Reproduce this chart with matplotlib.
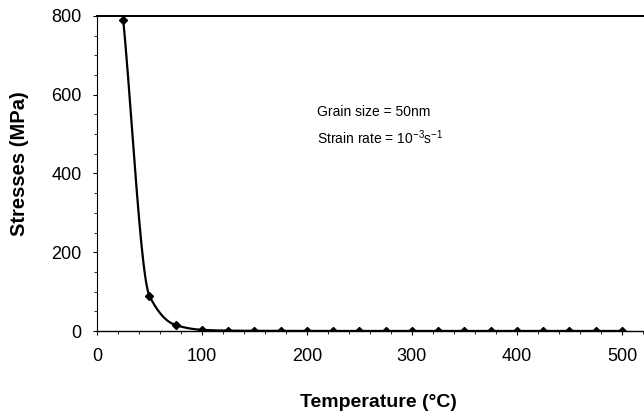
import numpy as np
import matplotlib.pyplot as plt
from matplotlib.ticker import MultipleLocator

plt.rcParams['font.family'] = ['Liberation Sans', 'DejaVu Sans']

# flow stress vs temperature
temperature = [25, 50, 75, 100, 125, 150, 175, 200, 225, 250, 275, 300,
               325, 350, 375, 400, 425, 450, 475, 500]
stress = [790, 89, 15, 3, 1, 0.5, 0.3, 0.2, 0.1, 0.1, 0.1, 0.1,
          0.1, 0.1, 0.1, 0.1, 0.1, 0.1, 0.1, 0.1]


def smooth_curve(x, y, n=40):
    # monotone cubic (Fritsch-Carlson) through the points, no overshoot
    x = np.asarray(x, float)
    y = np.asarray(y, float)
    h = np.diff(x)
    d = np.diff(y) / h
    m = np.zeros_like(y)
    m[0], m[-1] = d[0], d[-1]
    for i in range(1, len(x) - 1):
        if d[i - 1] * d[i] > 0:
            w1 = 2 * h[i] + h[i - 1]
            w2 = h[i] + 2 * h[i - 1]
            m[i] = (w1 + w2) / (w1 / d[i - 1] + w2 / d[i])
    px, py = [], []
    for i in range(len(x) - 1):
        t = np.linspace(0, 1, n)
        h00 = 2 * t ** 3 - 3 * t ** 2 + 1
        h10 = t ** 3 - 2 * t ** 2 + t
        h01 = -2 * t ** 3 + 3 * t ** 2
        h11 = t ** 3 - t ** 2
        px.extend(x[i] + t * h[i])
        py.extend(h00 * y[i] + h10 * h[i] * m[i] + h01 * y[i + 1] + h11 * h[i] * m[i + 1])
    return px, py


fig = plt.figure(figsize=(6.44, 4.19), dpi=100)
ax = fig.add_axes([0.1506, 0.21, 0.8494, 0.752])

sx, sy = smooth_curve(temperature, stress)
ax.plot(sx, sy, color='black', lw=1.6)
ax.plot(temperature, stress, ls='none', marker='D', ms=4.5, color='black')

ax.set_xlim(0, 521)
ax.set_ylim(0, 800)
ax.xaxis.set_major_locator(MultipleLocator(100))
ax.xaxis.set_minor_locator(MultipleLocator(20))
ax.yaxis.set_major_locator(MultipleLocator(200))
ax.yaxis.set_minor_locator(MultipleLocator(50))
ax.tick_params(which='major', direction='out', length=3, width=0.8, labelsize=13)
ax.tick_params(axis='x', which='major', pad=9)
ax.tick_params(axis='y', which='major', pad=8)
ax.tick_params(which='minor', direction='out', length=2, width=0.6)

ax.spines['right'].set_visible(False)
ax.spines['top'].set_linewidth(1.4)
ax.spines['left'].set_linewidth(0.8)
ax.spines['bottom'].set_linewidth(1.0)

ax.set_xlabel('Temperature (°C)', fontsize=14, fontweight='bold')
ax.xaxis.set_label_coords(0.514, -0.2)
ax.set_ylabel('Stresses (MPa)', fontsize=14.5, fontweight='bold')
ax.yaxis.set_label_coords(-0.125, 0.53)

ax.text(209.5, 555, 'Grain size = 50nm', fontsize=10, va='center')
ax.text(209.5, 492, r'Strain rate = 10$^{\mathregular{-3}}$s$^{\mathregular{-1}}$', fontsize=10, va='center')

fig.savefig('out.png', dpi=100)
